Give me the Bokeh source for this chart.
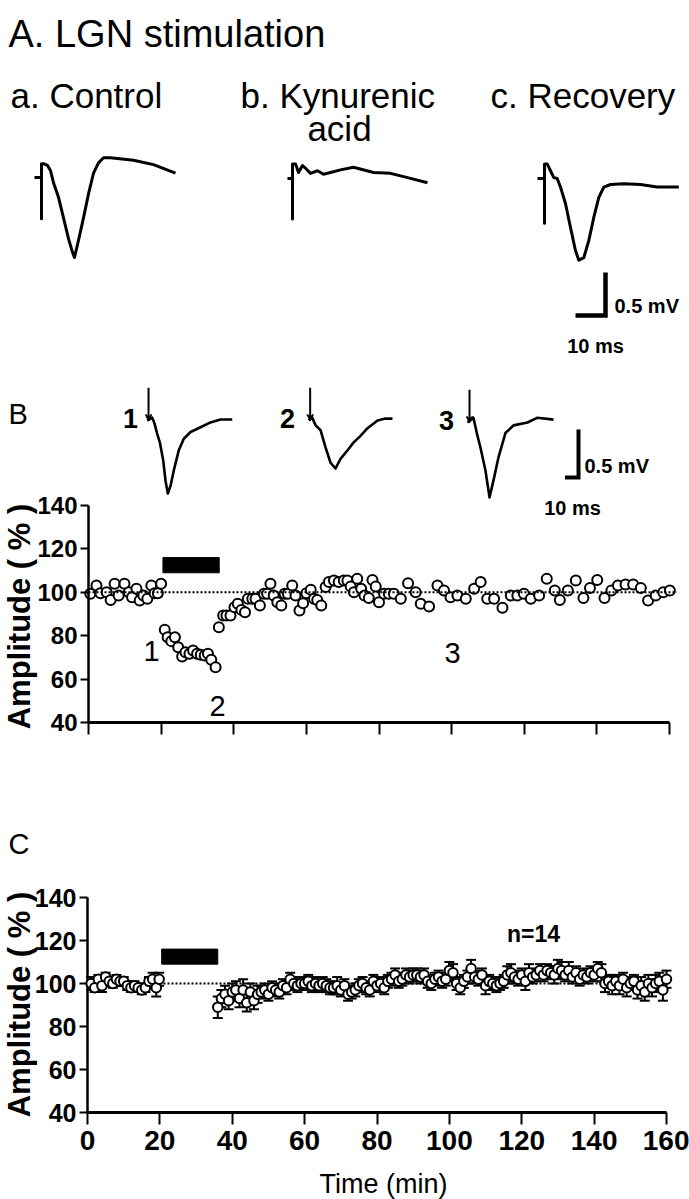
import math
from bokeh.plotting import figure
from bokeh.models import (Range1d, Label, FixedTicker, Whisker, TeeHead, LinearAxis,
                          ColumnDataSource, Arrow, VeeHead)
from bokeh.embed import file_html
from bokeh.resources import INLINE

# ------------------------------------------------------------------ texts
panel_title = "A. LGN stimulation"
cond_a = "a. Control"
cond_b1 = "b. Kynurenic"
cond_b2 = "acid"
cond_c = "c. Recovery"
ylab = "Amplitude ( % )"
xlab = "Time (min)"
n_label = "n=14"
mv_label = "0.5 mV"
ms_label = "10 ms"
sweep_labels = ["1", "2", "3"]

# scale bar sizes
scale_ms = 10.0
scale_mv = 0.5

# ------------------------------------------------------------------ Panel A traces (ms, mV)
ctrl_t = [0, 2.33, 2.33, 2.33, 3.0, 4.33, 5.33, 6.33, 8.0, 9.67, 11.33, 12.67, 13.33,
          14.67, 16.33, 18.0, 19.67, 21.33, 23.0, 25.33, 33.0, 39.67, 47.0]
ctrl_v = [0, 0, -0.48, 0.16, 0.16, 0.14, 0.08, -0.06, -0.23, -0.47, -0.71, -0.87, -0.93,
          -0.73, -0.47, -0.19, 0.05, 0.17, 0.23, 0.23, 0.20, 0.15, 0.05]
kyn_t = [0, 1.67, 1.67, 1.67, 2.67, 3.67, 5.0, 6.0, 7.67, 10.0, 12.0, 14.33, 17.67,
         22.0, 28.67, 34.33, 40.0, 46.67]
kyn_v = [0, 0, -0.47, 0.17, 0.17, 0.07, 0.15, 0.12, 0.06, 0.09, 0.05, 0.07, 0.10,
         0.13, 0.07, 0.06, 0.01, -0.05]
rec_t = [0, 2.33, 2.33, 2.33, 3.22, 4.33, 5.44, 6.56, 7.67, 9.33, 11.0, 12.67, 13.78,
         15.44, 17.11, 18.78, 20.44, 22.11, 24.33, 28.78, 34.33, 39.89, 47.11]
rec_v = [0, 0, -0.52, 0.17, 0.17, 0.09, 0.01, 0, -0.10, -0.29, -0.57, -0.84, -0.95,
         -0.92, -0.72, -0.45, -0.22, -0.10, -0.07, -0.06, -0.07, -0.10, -0.10]

# ------------------------------------------------------------------ Panel B sweeps (ms, mV)
sw1_t = [0, 3.7, 5.4, 7.4, 9.4, 11.9, 13.6, 15.3, 17.3, 19.7, 23.4, 27.1, 32.1, 39.5, 46.9, 54.3, 63.0]
sw1_v = [0, 0.03, -0.03, -0.14, -0.23, -0.42, -0.63, -0.76, -0.68, -0.52, -0.31, -0.19, -0.12, -0.07, -0.02, 0.01, 0.01]
sw2_t = [0, 2.5, 5.0, 8.7, 12.4, 16.1, 19.8, 22.0, 23.5, 28.7, 33.1, 38.3, 43.5, 50.9, 56.8, 62.0]
sw2_v = [0, 0.03, -0.05, -0.10, -0.28, -0.44, -0.50, -0.44, -0.40, -0.31, -0.23, -0.16, -0.08, 0.0, 0.02, 0.02]
sw3_t = [0, 4.4, 7.4, 9.6, 13.3, 16.3, 19.3, 23.0, 28.1, 34.1, 44.4, 51.9, 63.7]
sw3_v = [0, 0.05, -0.14, -0.26, -0.50, -0.78, -0.60, -0.36, -0.11, -0.03, 0.0, 0.05, 0.03]
stim_t = [1.0, 1.0, 1.5]   # stimulus arrow time in each sweep (ms)

# ------------------------------------------------------------------ Panel B amplitude vs time
b_time = [0.5, 2.2, 3.3, 5.0, 6.1, 7.2, 8.3, 9.9, 11.1, 12.0, 13.2, 14.1, 15.1, 16.2, 17.3, 18.2, 19.1, 20.0,
          21.0, 21.8, 22.8, 23.8, 24.7, 25.8, 26.7, 27.8, 28.8, 29.9, 30.9, 32.0, 32.9, 33.8, 35.0,
          35.9, 37.1, 38.0, 39.1, 40.2, 41.1, 42.1, 43.1, 43.9, 45.1, 46.0, 47.2, 48.3, 49.2, 50.1,
          51.0, 52.0, 53.1, 54.0, 54.9, 56.1, 57.0, 58.1, 59.1, 60.0, 61.2, 62.1, 63.0, 64.1, 65.3,
          66.2, 67.6, 68.9, 70.3, 71.3, 72.2, 73.1, 74.0, 75.1, 76.0, 77.2, 78.2, 79.1, 80.0, 81.4,
          82.7, 84.1, 86.0, 88.0, 90.1, 91.5, 93.8, 96.1, 97.9, 99.7, 101.6, 103.9, 106.2, 108.0,
          109.8, 111.7, 114.0, 116.3, 118.1, 119.9, 121.8, 124.1, 126.2, 128.4, 129.8, 132.0, 134.2,
          136.3, 138.1, 140.1, 142.1, 144.0, 145.8, 147.9, 150.0, 152.1, 154.1, 156.2, 158.3, 160.1]
b_amp = [99.3, 103.1, 99.6, 100.0, 96.5, 103.9, 98.5, 103.9, 100.0, 97.7, 101.6, 96.2, 98.5, 97.0, 103.1, 99.6, 99.6, 103.9,
         82.7, 79.3, 77.5, 79.3, 74.7, 70.4, 72.4, 71.7, 73.2, 71.7, 71.2, 70.9, 71.7, 68.9, 65.5,
         83.9, 89.3, 89.3, 89.3, 93.1, 94.7, 91.9, 90.8, 97.0, 97.0, 97.0, 93.9, 99.3, 99.3, 103.9,
         98.5, 95.4, 93.9, 99.3, 99.3, 103.1, 98.5, 91.6, 95.0, 99.6, 101.2, 97.0, 96.5, 93.9, 102.4,
         104.7, 105.4, 104.7, 105.4, 105.4, 102.7, 100.0, 106.2, 101.6, 98.5, 97.4, 105.7, 102.7, 95.4, 99.3,
         99.3, 99.3, 97.0, 104.2, 100.0, 94.7, 93.5, 103.1, 100.8, 97.7, 98.5, 97.0, 101.6, 104.7,
         97.0, 97.0, 92.9, 98.5, 98.5, 99.3, 97.0, 98.5, 106.2, 100.8, 96.5, 100.8, 105.4,
         97.4, 102.0, 105.7, 97.4, 100.8, 103.1, 103.6, 103.6, 102.0, 96.2, 98.5, 100.0, 100.8]

# ------------------------------------------------------------------ Panel C mean +/- SEM (n=14)
c_time = [1, 2, 3, 4, 5, 6, 7, 8, 9, 10, 11, 12, 13, 14, 15, 16, 17, 18, 19, 19.8,
          36, 37, 38, 39, 40, 41, 42, 43, 44, 45, 46, 47, 48, 49, 50, 51, 52, 53, 54, 55,
          56, 57, 58, 59, 60, 61, 62, 63, 64, 65, 66, 67, 68, 69, 70, 71, 72, 73, 74, 75,
          76, 77, 78, 79, 80, 81, 82, 83, 84, 85, 86, 87, 88, 89, 90, 91, 92, 93, 94, 95,
          96, 97, 98, 99, 100, 101, 102, 103, 104, 105, 106, 107, 108, 109, 110, 111, 112, 113, 114, 115,
          116, 117, 118, 119, 120, 121, 122, 123, 124, 125, 126, 127, 128, 129, 130, 131, 132, 133, 134, 135,
          136, 137, 138, 139, 140, 141, 142, 143, 144, 145, 146, 147, 148, 149, 150, 151, 152, 153, 154, 155,
          156, 157, 158, 159, 160]
c_mean = [100, 98, 102, 99, 103, 101, 100, 102, 101, 101, 99, 98, 99, 98, 97, 98, 101, 102, 98, 102,
          89, 93, 95, 92, 96, 97, 93, 97, 91, 96,
          92, 95, 96, 97, 95, 98, 97, 96, 99, 98,
          102, 100, 99, 100, 100, 101, 99, 100, 99, 100,
          99, 98, 98, 99, 97, 99, 95, 96, 97, 99,
          100, 98, 97, 101, 99, 100, 98, 101, 102, 104,
          101, 102, 104, 103, 104, 104, 103, 104, 101, 100,
          102, 103, 101, 102, 106, 105, 100, 98, 101, 103,
          107, 103, 102, 104, 99, 101, 100, 99, 100, 101,
          104, 105, 103, 102, 104, 101, 105, 103, 104, 106,
          104, 106, 105, 104, 107, 106, 104, 106, 103, 105,
          102, 104, 103, 105, 104, 107, 105, 100, 101, 99,
          101, 99, 102, 98, 100, 101, 97, 99, 96, 100,
          98, 100, 101, 97, 102]
c_sem = [3, 2, 2, 3, 2, 2, 2, 2, 2, 2, 2, 2, 2, 2, 2, 2, 2, 3, 4, 3,
         5, 4, 4, 4, 4, 4, 4, 5, 4, 4,
         4, 4, 3, 3, 3, 3, 3, 3, 3, 3,
         3, 3, 3, 3, 3, 3, 3, 3, 3, 3,
         3, 3, 3, 4, 3, 3, 3, 3, 3, 3,
         3, 3, 3, 3, 3, 3, 3, 3, 3, 3,
         3, 3, 3, 3, 3, 3, 3, 3, 3, 3,
         3, 3, 3, 3, 4, 4, 3, 3, 3, 3,
         4, 3, 3, 3, 4, 3, 3, 3, 3, 3,
         4, 4, 3, 3, 3, 4, 4, 3, 3, 3,
         3, 3, 3, 4, 4, 4, 3, 4, 3, 3,
         3, 3, 3, 3, 3, 3, 4, 4, 3, 4,
         3, 4, 3, 4, 3, 3, 4, 4, 4, 4,
         4, 4, 4, 5, 4]

drug_on, drug_off = 20.5, 36.0
time_ticks = [0, 20, 40, 60, 80, 100, 120, 140, 160]
amp_ticks = [40, 60, 80, 100, 120, 140]
baseline_pct = 100

# ------------------------------------------------------------------ page figure
SANS = "Liberation Sans"
W, H = 689, 1199

p = figure(width=W, height=H, toolbar_location=None, output_backend="svg",
           x_range=Range1d(0, W), y_range=Range1d(H, 0),
           x_axis_location=None, y_axis_location=None,
           min_border=0, min_border_left=0, min_border_right=0,
           min_border_top=0, min_border_bottom=0,
           outline_line_color=None, background_fill_color="white",
           border_fill_color="white")
p.grid.visible = False


def anchored(name, x0, y0, sx, sy):
    """named ranges putting trace origin at page point (x0, y0), sx px per ms, sy px per mV"""
    p.extra_x_ranges[name] = Range1d((0 - x0) / sx, (W - x0) / sx)
    p.extra_y_ranges[name] = Range1d((y0 - H) / sy, (y0 - 0) / sy)


def data_ranges(name, x_at0, x_at160, y_at40, px_per_pct):
    """time range (min) and amplitude range (%) for a summary panel"""
    ppm = (x_at160 - x_at0) / (time_ticks[-1] - time_ticks[0])
    p.extra_x_ranges["t" + name] = Range1d(time_ticks[0] - x_at0 / ppm,
                                           time_ticks[0] + (W - x_at0) / ppm)
    p.extra_y_ranges["a" + name] = Range1d(amp_ticks[0] - (H - y_at40) / px_per_pct,
                                           amp_ticks[0] + y_at40 / px_per_pct)


def lab(x, y, text, size, style="normal", align="left", base="alphabetic", angle=0.0):
    p.add_layout(Label(x=x, y=y, text=text, text_font=SANS, text_font_size=size,
                       text_font_style=style, text_align=align, text_baseline=base,
                       angle=angle, text_color="black"))


def axes(name, x_at0, y_at40, labels, ysize, xsize):
    ya = LinearAxis(y_range_name="a" + name, fixed_location=x_at0,
                    ticker=FixedTicker(ticks=amp_ticks), bounds=(amp_ticks[0], amp_ticks[-1]),
                    axis_line_width=2.5, major_tick_line_width=2, major_tick_out=8,
                    major_tick_in=0, minor_tick_out=0, minor_tick_in=0,
                    major_label_standoff=3, major_label_text_font=SANS,
                    major_label_text_font_style="bold", major_label_text_font_size=ysize,
                    major_label_text_color="black")
    p.add_layout(ya, "left")
    xa = LinearAxis(x_range_name="t" + name, fixed_location=y_at40,
                    ticker=FixedTicker(ticks=time_ticks), bounds=(time_ticks[0], time_ticks[-1]),
                    axis_line_width=3, major_tick_line_width=2, major_tick_out=12,
                    major_tick_in=0, minor_tick_out=0, minor_tick_in=0,
                    major_label_standoff=6, major_label_text_font=SANS,
                    major_label_text_font_style="bold", major_label_text_font_size=xsize,
                    major_label_text_color="black" if labels else None)
    p.add_layout(xa, "below")


# ================================================================== Panel A
A_sx, A_sy = 3.0, 86.0
for name, tt, vv, x0, y0 in [("ta", ctrl_t, ctrl_v, 34, 177), ("tb", kyn_t, kyn_v, 287, 178),
                             ("tc", rec_t, rec_v, 537, 178)]:
    anchored(name, x0, y0, A_sx, A_sy)
    p.line(tt, vv, line_width=3, line_color="black", line_join="round",
           x_range_name=name, y_range_name=name)
anchored("sa", 605, 315, A_sx, A_sy)
p.line([-scale_ms, 0, 0], [0, 0, scale_mv], line_width=4.5, line_color="black",
       line_join="miter", x_range_name="sa", y_range_name="sa")

lab(8, 33, panel_title, "38px")
lab(10, 95, cond_a, "35px")
lab(240, 95, cond_b1, "35px")
lab(339, 128, cond_b2, "35px", align="center")
lab(490, 95, cond_c, "35px")
lab(614, 305, mv_label, "20px", style="bold")
lab(595, 345, ms_label, "20px", style="bold", align="center")

# ================================================================== Panel B
B_sx, B_sy = 1.35, 96.0
for k, (name, tt, vv, x0, y0) in enumerate([("s1", sw1_t, sw1_v, 146.7, 420),
                                            ("s2", sw2_t, sw2_v, 308.3, 420),
                                            ("s3", sw3_t, sw3_v, 467, 422)]):
    anchored(name, x0, y0, B_sx, B_sy)
    p.line(tt, vv, line_width=2.6, line_color="black", line_join="round",
           x_range_name=name, y_range_name=name)
    p.add_layout(Arrow(x_start=stim_t[k], y_start=0.34, x_end=stim_t[k], y_end=0.0,
                       line_width=2, line_color="black",
                       end=VeeHead(size=6, line_width=1.5, line_color="black", fill_color="black"),
                       x_range_name=name, y_range_name=name))
anchored("sb", 578, 477, B_sx, B_sy)
p.line([-scale_ms, 0, 0], [0, 0, scale_mv], line_width=4, line_color="black",
       line_join="miter", x_range_name="sb", y_range_name="sb")

data_ranges("B", 88, 669, 722, 2.17)
axes("B", 88, 722, False, "24px", "24px")
p.quad(left=[drug_on], right=[drug_off], bottom=[109], top=[116], color="black",
       x_range_name="tB", y_range_name="aB")
p.scatter(b_time, b_amp, marker="circle", size=10, line_color="black", line_width=2,
          fill_color="white", x_range_name="tB", y_range_name="aB")
p.line([time_ticks[0], time_ticks[-1] + 2], [baseline_pct, baseline_pct], line_color="black",
       line_width=2, line_dash="2 2", x_range_name="tB", y_range_name="aB")

lab(8, 413, "B", "29px")
lab(130, 418, sweep_labels[0], "27px", style="bold", align="center")
lab(287, 418, sweep_labels[1], "27px", style="bold", align="center")
lab(446, 420, sweep_labels[2], "27px", style="bold", align="center")
lab(584, 465, mv_label, "20px", style="bold")
lab(572, 507, ms_label, "20px", style="bold", align="center")
lab(151, 650, sweep_labels[0], "29px", align="center")
lab(217, 705, sweep_labels[1], "29px", align="center")
lab(452, 652, sweep_labels[2], "29px", align="center")
lab(18.5, 616, ylab, "31px", style="bold", align="center", base="middle", angle=math.pi / 2)

# ================================================================== Panel C
data_ranges("C", 87, 666, 1112, 2.15)
axes("C", 87, 1112, True, "25px", "28px")
p.line([time_ticks[0], time_ticks[-1]], [baseline_pct, baseline_pct], line_color="black",
       line_width=2, line_dash="2 2", x_range_name="tC", y_range_name="aC")
src = ColumnDataSource(dict(t=c_time, m=c_mean,
                            hi=[m + s for m, s in zip(c_mean, c_sem)],
                            lo=[m - s for m, s in zip(c_mean, c_sem)]))
p.add_layout(Whisker(source=src, base="t", upper="hi", lower="lo", dimension="height",
                     line_width=2, line_color="black", level="glyph",
                     x_range_name="tC", y_range_name="aC",
                     upper_head=TeeHead(size=10, line_width=2, line_color="black"),
                     lower_head=TeeHead(size=10, line_width=2, line_color="black")))
p.quad(left=[drug_on], right=[drug_off], bottom=[109], top=[116], color="black",
       x_range_name="tC", y_range_name="aC")
sc = p.scatter("t", "m", source=src, marker="circle", size=9.5, line_color="black",
               line_width=2, fill_color="white", x_range_name="tC", y_range_name="aC")
sc.level = "annotation"

lab(8, 843, "C", "29px")
lab(533, 933, n_label, "23px", style="bold", align="center")
lab(383, 1183, xlab, "27px", align="center")
lab(18.5, 1004, ylab, "31px", style="bold", align="center", base="middle", angle=math.pi / 2)

open("out.html", "w").write(file_html(p, INLINE))
